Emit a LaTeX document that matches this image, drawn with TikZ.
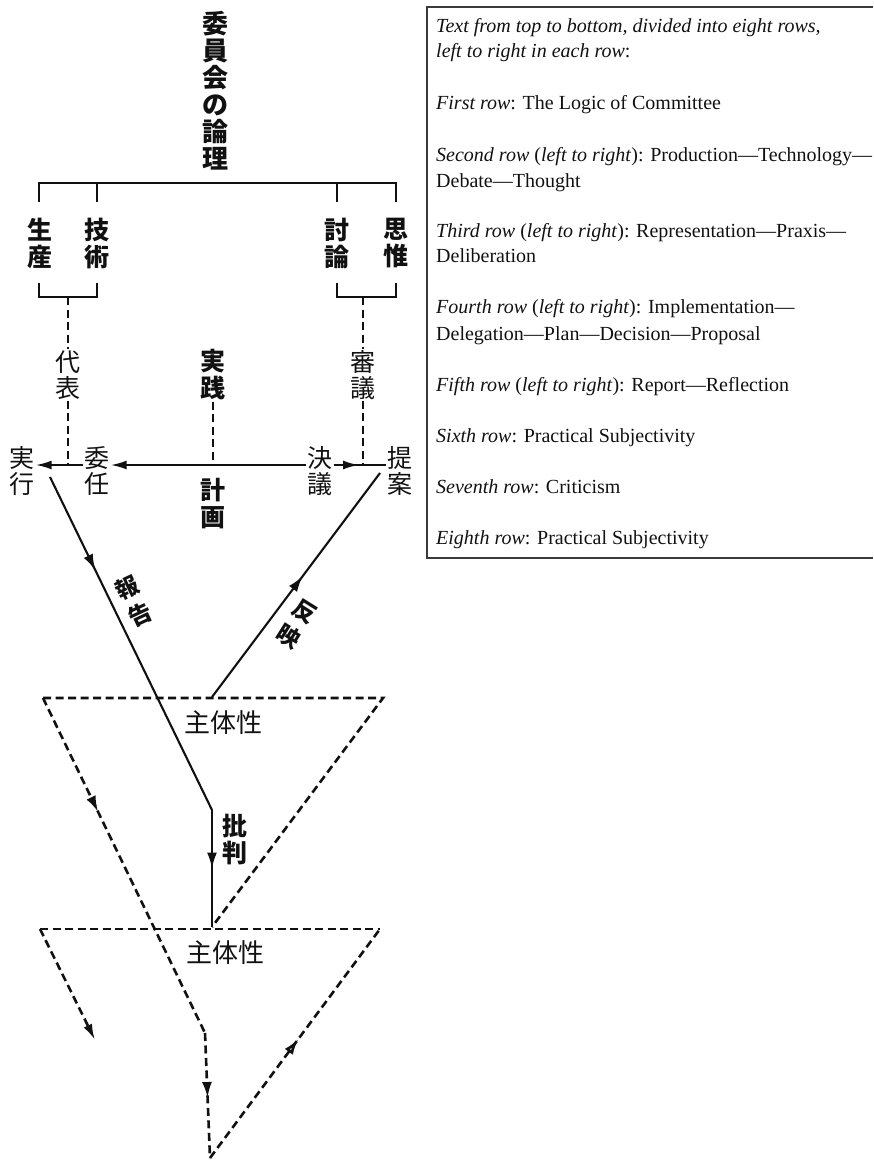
\documentclass[tikz,border=0pt]{standalone}
\usepackage{fontspec}
\setmainfont{Liberation Serif}
\newfontfamily\jpfont{Noto Sans CJK JP}
\usetikzlibrary{arrows.meta,decorations.markings}
\definecolor{Ink}{HTML}{111111}
\definecolor{FrameGrey}{HTML}{3A3A3A}

\begin{document}
\begin{tikzpicture}[x=1pt,y=-1pt]
  \path[use as bounding box] (0,0) rectangle (873,1161);
  \tikzset{
    kanjiTitle/.style={
      font=\jpfont\bfseries\fontsize{26}{27}\selectfont,
      align=center, inner sep=1pt, text=Ink
    },
    kanjiBold/.style={
      font=\jpfont\bfseries\fontsize{25}{27}\selectfont,
      align=center, inner sep=1pt, text=Ink
    },
    kanjiReg/.style={
      font=\jpfont\fontsize{25}{26}\selectfont,
      align=center, inner sep=1pt, text=Ink
    },
    kanjiSlant/.style={
      font=\jpfont\bfseries\fontsize{23}{30}\selectfont,
      align=center, inner sep=0pt, text=Ink
    },
    boxText/.style={
      anchor=base west, inner sep=0pt, text=Ink,
      font=\fontsize{20}{25}\selectfont
    },
    solidLine/.style={draw=Ink, line width=2.1pt},
    dashLine/.style={draw=Ink, line width=2.6pt, dash pattern=on 8pt off 4.5pt},
    tipSolid/.style={-{Latex[length=16pt,width=9pt]}},
    midArrow/.style={postaction={decorate}, decoration={markings,
      mark=at position #1 with {\arrow{Latex[length=16pt,width=10pt]}}}},
    midArrowOpen/.style={postaction={decorate}, decoration={markings,
      mark=at position #1 with {\arrow{Latex[open,length=16pt,width=10pt]}}}}
  }

  % vertical labels
  \node[kanjiTitle] (title) at (215,91) {委\\員\\会\\の\\論\\理};
  \node[kanjiBold] (prod) at (40,243) {生\\産};
  \node[kanjiBold] (tech) at (97,243) {技\\術};
  \node[kanjiBold] (debate) at (337,243) {討\\論};
  \node[kanjiBold] (thought) at (396,243) {思\\惟};
  \node[kanjiReg] (repr) at (68,375) {代\\表};
  \node[kanjiBold] (praxis) at (213,375) {実\\践};
  \node[kanjiReg] (delib) at (363,375) {審\\議};
  \node[kanjiReg] (impl) at (22,471) {実\\行};
  \node[kanjiReg] (deleg) at (97,471) {委\\任};
  \node[kanjiBold] (plan) at (213,504) {計\\画};
  \node[kanjiReg] (decis) at (320,471) {決\\議};
  \node[kanjiReg] (prop) at (400,471) {提\\案};
  \node[kanjiSlant,rotate=25] (report) at (134,601) {報\\告};
  \node[kanjiSlant,rotate=-32] (reflect) at (297,624) {反\\映};
  \node[kanjiBold] (critic) at (235,840) {批\\判};
  \node[kanjiReg,font=\jpfont\fontsize{26}{27}\selectfont] (subjA) at (223,723) {主体性};
  \node[kanjiReg,font=\jpfont\fontsize{26}{27}\selectfont] (subjB) at (225,953) {主体性};

  % brackets
  \draw[solidLine] (39,202) -- (39,183) -- (396,183) -- (396,202);
  \draw[solidLine] (97,183) -- (97,202);
  \draw[solidLine] (337,183) -- (337,202);
  \draw[solidLine] (39,283) -- (39,297) -- (97,297) -- (97,283);
  \draw[solidLine] (337,283) -- (337,297) -- (396,297) -- (396,283);

  \coordinate (brL) at (68,297);
  \coordinate (brR) at (363,297);
  \coordinate (jRep) at (68,465);
  \coordinate (jPrax) at (213,465);
  \coordinate (jDelib) at (363,465);

  \draw[dashLine] (brL) -- (repr.north);
  \draw[dashLine] (repr.south) -- (jRep);
  \draw[dashLine] (praxis.south) -- (jPrax);
  \draw[dashLine] (brR) -- (delib.north);
  \draw[dashLine] (delib.south) -- (jDelib);

  % plan row
  \draw[solidLine,tipSolid] (deleg.west|-jRep) -- (impl.east|-jRep);
  \draw[solidLine,tipSolid] (decis.west|-jPrax) -- (deleg.east|-jPrax);
  \draw[solidLine] (decis.east|-jDelib) -- (prop.west|-jDelib);
  \draw[solidLine,tipSolid] (decis.east|-jDelib) -- ([xshift=-4]jDelib);

  % report / reflection / criticism
  \coordinate (repStart) at (50,477);
  \coordinate (bendA) at (212,810);
  \coordinate (apexA) at (212,927);
  \coordinate (refStart) at (212,697);
  \coordinate (refEnd) at (380,473);
  \draw[solidLine,midArrow=0.28] (repStart) -- (bendA);
  \draw[solidLine,midArrow=0.5] (bendA) -- (apexA);
  \draw[solidLine,midArrow=0.54] (refStart) -- (refEnd);

  % subjectivity triangles
  \coordinate (triAL) at (43,698);
  \coordinate (triAR) at (383,698);
  \coordinate (triBL) at (40,929);
  \coordinate (triBR) at (380,929);
  \coordinate (bendB) at (205,1033);
  \coordinate (apexB) at (210,1158);
  \coordinate (tailB) at (95,1040);
  \draw[dashLine] (triAL) -- (triAR) -- (apexA);
  \draw[dashLine,midArrow=0.34] (triAL) -- (bendB);
  \draw[dashLine,midArrow=0.52] (bendB) -- (apexB);
  \draw[dashLine] (triBL) -- (triBR);
  \draw[dashLine,tipSolid] (triBL) -- (tailB);
  \draw[dashLine,midArrowOpen=0.52] (apexB) -- (triBR);

  % translation box
  \draw[draw=FrameGrey,line width=1.6pt] (873,7) -- (427,7) -- (427,558) -- (873,558);
  \node[boxText] (l1) at (436,33) {\textit{Text from top to bottom, divided into eight rows,}};
  \node[boxText] (l2) at (436,58) {\textit{left to right in each row}:};
  \node[boxText] (l3) at (436,110) {\textit{First row}: The Logic of Committee};
  \node[boxText] (l4) at (436,162) {\textit{Second row} (\textit{left to right}): Production---Technology---};
  \node[boxText] (l5) at (436,187) {Debate---Thought};
  \node[boxText] (l6) at (436,237) {\textit{Third row} (\textit{left to right}): Representation---Praxis---};
  \node[boxText] (l7) at (436,262) {Deliberation};
  \node[boxText] (l8) at (436,313) {\textit{Fourth row} (\textit{left to right}): Implementation---};
  \node[boxText] (l9) at (436,340) {Delegation---Plan---Decision---Proposal};
  \node[boxText] (l10) at (436,391) {\textit{Fifth row} (\textit{left to right}): Report---Reflection};
  \node[boxText] (l11) at (436,442) {\textit{Sixth row}: Practical Subjectivity};
  \node[boxText] (l12) at (436,493) {\textit{Seventh row}: Criticism};
  \node[boxText] (l13) at (436,544) {\textit{Eighth row}: Practical Subjectivity};
\end{tikzpicture}
\end{document}
